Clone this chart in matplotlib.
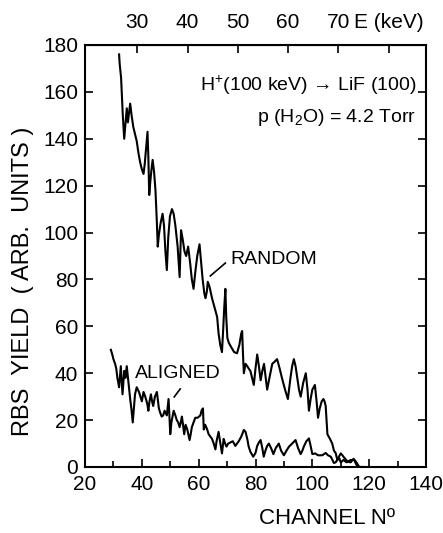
import matplotlib
matplotlib.use("Agg")
import matplotlib.pyplot as plt
from matplotlib.ticker import FixedLocator, FixedFormatter, MultipleLocator

plt.rcParams['font.family'] = ['Liberation Sans', 'DejaVu Sans']
plt.rcParams['mathtext.fontset'] = 'custom'
plt.rcParams['mathtext.rm'] = 'Liberation Sans'
plt.rcParams['mathtext.it'] = 'Liberation Sans'
plt.rcParams['mathtext.default'] = 'rm'

# ---- data (channel, yield) ----
random_ch = [32.0, 32.2, 32.7, 33.0, 33.3, 33.8, 34.2, 34.7, 35.1, 35.5, 35.9, 36.4, 37.0, 37.6, 38.2,
             38.8, 39.4, 40.0, 40.6, 41.0, 41.5, 42.0, 42.3, 42.6, 43.0, 43.4, 43.8, 44.3, 44.8, 45.3,
             45.6, 46.0, 46.6, 47.3, 47.8, 48.3, 48.8, 49.3, 49.9, 50.6, 51.2, 51.8, 52.6, 53.3, 53.8,
             54.4, 55.0, 55.6, 56.3, 57.0, 57.6, 58.2, 58.8, 59.5, 60.3, 60.8, 61.4, 62.0, 62.4, 62.9,
             63.2, 63.8, 64.7, 65.6, 66.5, 67.0, 67.6, 68.2, 68.6, 69.0, 69.4, 69.7, 70.1, 70.6, 71.5,
             72.5, 73.5, 74.3, 75.0, 75.3, 75.6, 75.9, 76.5, 77.1, 77.6, 78.2, 78.8, 79.4, 80.0, 80.6,
             81.2, 81.8, 82.4, 83.0, 83.6, 84.1, 84.9, 85.9, 86.8, 87.6, 88.5, 89.3, 90.4, 91.4, 91.8,
             92.3, 92.9, 93.5, 94.1, 94.7, 95.3, 95.9, 96.8, 97.7, 98.3, 98.8, 99.4, 100.0, 100.9, 101.5,
             102.0, 102.6, 103.3, 103.9, 104.3, 104.7, 105.0, 105.3, 106.2, 107.0, 107.6, 108.2, 108.8,
             109.4, 110.0, 111.0, 112.0, 113.5, 114.7, 115.5, 116.5, 118.0]
random_y = [176, 172, 166, 158, 150, 140, 146, 153, 147, 151, 155, 150, 145, 142, 139,
            134, 130, 127, 125, 129, 136, 143, 132, 116, 122, 127, 131, 126, 118, 104,
            94, 99, 104, 108, 103, 92, 84, 98, 107, 110, 108, 103, 94, 81, 101,
            97, 92, 90, 94, 87, 80, 76, 83, 90, 95, 88, 80, 74, 72, 75,
            79, 77, 72, 68, 64, 57, 52, 49, 58, 68, 76, 64, 55, 53, 51,
            49, 48.5, 52, 57, 58, 48, 40, 44, 43, 42, 41, 38, 35, 42, 48,
            43, 37, 41, 44, 38, 33, 38, 44, 45, 46, 42, 38, 33, 29, 33,
            38, 43, 46, 43, 38, 33, 30, 36, 40, 33, 24, 29, 33, 35, 28,
            21, 25, 28, 29, 28, 26, 20, 14, 12, 10, 7, 6, 3,
            4, 2, 3, 2, 3, 3, 1, 0, 0]

aligned_ch = [29.1, 29.6, 30.0, 30.6, 31.0, 31.4, 32.0, 32.6, 33.2, 33.8, 34.2, 34.7, 35.3, 35.9, 36.4,
              36.8, 37.2, 37.6, 38.2, 39.0, 39.5, 40.0, 40.6, 41.2, 41.9, 42.3, 42.7, 43.2, 43.6, 44.0,
              44.6, 45.3, 45.7, 46.0, 46.5, 47.0, 47.5, 48.0, 48.4, 48.8, 49.4, 49.7, 50.0, 50.4, 51.2,
              51.8, 52.3, 52.8, 53.3, 53.7, 54.1, 54.5, 54.9, 55.4, 56.0, 56.8, 57.2, 57.6, 58.2, 58.8,
              59.6, 60.6, 61.0, 61.5, 61.8, 62.3, 63.0, 63.5, 64.1, 64.7, 65.3, 65.9, 66.3, 67.0, 67.4,
              68.2, 68.8, 69.3, 69.8, 70.4, 71.2, 72.0, 72.9, 73.5, 74.1, 75.0, 75.9, 76.5, 77.1, 77.6,
              78.2, 79.2, 80.0, 80.6, 81.2, 81.8, 82.4, 82.9, 83.5, 84.1, 84.7, 85.5, 86.3, 87.1, 88.2,
              89.0, 90.0, 90.9, 91.8, 92.9, 94.1, 95.0, 95.9, 96.5, 97.0, 97.9, 98.8, 99.4, 100.0, 101.0,
              102.0, 103.5, 104.7, 105.5, 106.5, 107.6, 108.2, 108.8, 109.4, 110.0, 110.6, 111.2, 112.4,
              113.5, 114.5, 115.5, 116.5, 118.0]
aligned_y = [50, 48, 46, 44, 42, 38, 34, 43, 31, 41, 38, 43, 36, 29, 24,
             19, 25, 31, 34, 32, 30, 28, 32, 30, 27, 24, 28, 31, 28, 26,
             30, 32, 28, 25, 23, 21.5, 22, 24, 23, 22, 29, 22, 14, 19, 24,
             22, 20, 19, 17, 19, 21.5, 18, 14, 18, 16, 11.5, 14, 17, 19, 21,
             21, 22, 24, 25, 16, 18, 16, 14, 13, 12, 10, 7.5, 11, 15, 12,
             5.8, 12, 10, 8.7, 10, 10.5, 11, 9, 10, 11, 13, 15.8, 15, 12, 8.7,
             6.5, 4.4, 6, 9, 10.5, 11.5, 8, 4.4, 7, 9, 10, 8, 5.5, 8, 10,
             7, 5, 7, 8.7, 10, 11.5, 8, 5.5, 7, 8.7, 11, 12.2, 9, 5.5, 5.8,
             5, 5, 6, 5, 4.4, 1.7, 2, 3, 4.5, 5.8, 5, 4, 2.3,
             2, 3.5, 2, 0, 0]

energy_ticks = [30, 40, 50, 60, 70, 80]
energy_labels = ['30', '40', '50', '60', '70', 'E (keV)']


def ch2e(ch):
    return 30 + (ch - 38.4) * 10 / 17.7


def e2ch(e):
    return 38.4 + (e - 30) * 17.7 / 10


FS = 15

fig = plt.figure(figsize=(4.43, 5.33), dpi=100)
ax = fig.add_axes([85 / 443, 66 / 533, 341 / 443, 422 / 533])

ax.plot(random_ch, random_y, color='black', lw=1.5)
ax.plot(aligned_ch, aligned_y, color='black', lw=1.5)

ax.set_xlim(20, 140)
ax.set_ylim(0, 180)
ax.xaxis.set_major_locator(MultipleLocator(20))
ax.xaxis.set_minor_locator(MultipleLocator(10))
ax.yaxis.set_major_locator(MultipleLocator(20))
ax.tick_params(axis='both', which='both', direction='in', labelsize=FS, width=1.2, color='black')
ax.tick_params(axis='x', which='major', length=6, pad=6)
ax.tick_params(axis='x', which='minor', length=4)
ax.tick_params(axis='y', which='major', length=6, pad=5, right=True)
for s in ax.spines.values():
    s.set_linewidth(1.5)

sec = ax.secondary_xaxis('top', functions=(ch2e, e2ch))
sec.xaxis.set_major_locator(FixedLocator(energy_ticks))
sec.xaxis.set_major_formatter(FixedFormatter(energy_labels))
sec.tick_params(direction='in', length=6, width=1.2, labelsize=FS, pad=9)

ax.text(136.5, 163, r'H$^{+}$(100 keV) → LiF (100)', fontsize=14, ha='right', va='center')
ax.text(136.5, 149, r'p (H$_2$O) = 4.2 Torr', fontsize=14, ha='right', va='center')

ax.text(71.2, 88.3, 'RANDOM', fontsize=14, ha='left', va='center')
ax.plot([69.4, 64.1], [87, 81.5], color='black', lw=1.2)
ax.text(37.6, 39.7, 'ALIGNED', fontsize=14, ha='left', va='center')
ax.plot([53.5, 51.4], [33.3, 29.9], color='black', lw=1.2)

fig.text(23 / 443, 1 - 281 / 533, 'RBS  YIELD  ( ARB.  UNITS )', rotation=90, fontsize=17,
         ha='center', va='center')
fig.text(327 / 443, 1 - 519 / 533, 'CHANNEL Nº', fontsize=16, ha='center', va='center')

fig.savefig('out.png', dpi=100)
